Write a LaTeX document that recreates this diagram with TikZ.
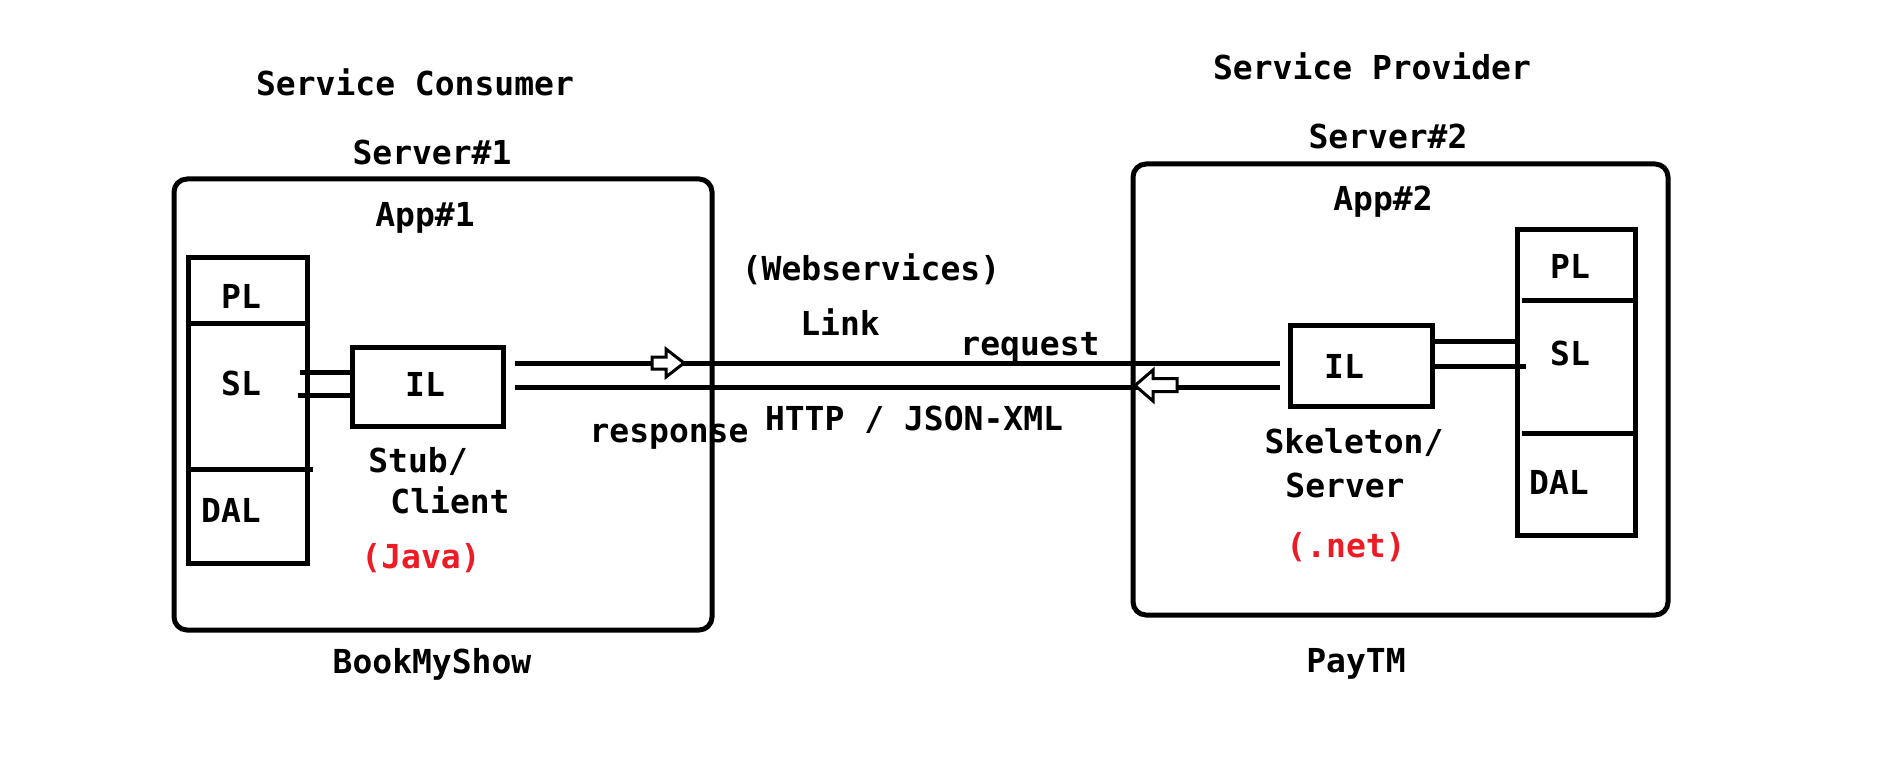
\documentclass[tikz,border=0pt]{standalone}
\usepackage{fontspec}
\newfontfamily\dmono{DejaVu Sans Mono}
\usetikzlibrary{calc}
\definecolor{pred}{RGB}{237,28,36}
\begin{document}
\begin{tikzpicture}[x=1pt,y=-1pt,line width=5pt,
  lbl/.style={anchor=base,inner sep=0pt,font=\dmono\bfseries\fontsize{33}{38}\selectfont},
  redlbl/.style={lbl,text=pred},
  box/.style={draw,line width=5pt,inner sep=0pt},
  srvbox/.style={box,rounded corners=13pt},
  harrow/.style={draw,fill=white,line width=3pt,line join=miter}]
\useasboundingbox (0,0) rectangle (1894,770);
\fill[white] (0,0) rectangle (1894,770);

% level coordinates
\coordinate (yrq) at (0,363);
\coordinate (yrs) at (0,387);
\coordinate (yl1) at (0,372);
\coordinate (yl2) at (0,395);
\coordinate (yr1) at (0,341);
\coordinate (yr2) at (0,366);

% server boxes
\node[srvbox,minimum width=538pt,minimum height=451pt] (srv1) at (443,404.5) {};
\node[srvbox,minimum width=535pt,minimum height=451pt] (srv2) at (1400.5,389.5) {};

% stacks
\node[box,minimum width=119pt,minimum height=306pt] (stkL) at (247.5,410) {};
\node[box,minimum width=118pt,minimum height=306pt] (stkR) at (1576,382) {};
\draw (stkL.west |- 0,323) -- (stkL.east |- 0,323);
\draw (stkL.west |- 0,469) -- ($(stkL.east |- 0,469)+(3,0)$);
\draw ($(stkR.west |- 0,300)+(7,0)$) -- ($(stkR.east |- 0,300)+(-4,0)$);
\draw ($(stkR.west |- 0,433)+(7,0)$) -- (stkR.east |- 0,433);

% IL boxes
\node[box,minimum width=151pt,minimum height=79pt] (ilL) at (427.5,386.5) {};
\node[box,minimum width=142pt,minimum height=81pt] (ilR) at (1361,365.5) {};

% SL <-> IL connectors
\draw ($(stkL.east |- yl1)+(-10,0)$) -- (ilL.west |- yl1);
\draw ($(stkL.east |- yl2)+(-12,0)$) -- (ilL.west |- yl2);
\draw (ilR.east |- yr1) -- (stkR.west |- yr1);
\draw (ilR.east |- yr2) -- ($(stkR.west |- yr2)+(11,0)$);

% request / response links
\draw ($(ilL.east |- yrq)+(9,0)$) -- ($(ilR.west |- yrq)+(-8,0)$);
\draw ($(ilL.east |- yrs)+(9,0)$) -- ($(ilR.west |- yrs)+(-8,0)$);

% hollow arrows
\draw[harrow] (652,357) -- (666,357) -- (666,349) -- (684,363) -- (666,377) -- (666,369) -- (652,369) -- cycle;
\draw[harrow] (1177,378.5) -- (1153,378.5) -- (1153,370) -- (1135,385.5) -- (1153,401) -- (1153,391.5) -- (1177,391.5) -- cycle;

% texts
\node[lbl] (tcons) at (415,96) {Service Consumer};
\node[lbl] (tsrv1) at (432,165) {Server\#1};
\node[lbl] (tapp1) at (425,226) {App\#1};
\node[lbl] (tprov) at (1372,80) {Service Provider};
\node[lbl] (tsrv2) at (1388,149) {Server\#2};
\node[lbl] (tapp2) at (1383,210) {App\#2};
\node[lbl] (tws) at (871,280) {(Webservices)};
\node[lbl] (tlink) at (840,335) {Link};
\node[lbl] (treq) at (1030,355) {request};
\node[lbl] (tresp) at (669,442) {response};
\node[lbl] (thttp) at (914,430) {HTTP / JSON-XML};
\node[lbl] (tplL) at (241,308) {PL};
\node[lbl] (tslL) at (241,395) {SL};
\node[lbl] (tdalL) at (231,522) {DAL};
\node[lbl] (tilL) at (425,396) {IL};
\node[lbl] (tstub) at (418,472) {Stub/};
\node[lbl] (tclient) at (450,513) {Client};
\node[redlbl] (tjava) at (421,568) {(Java)};
\node[lbl] (tbms) at (432,673) {BookMyShow};
\node[lbl] (tplR) at (1570,278) {PL};
\node[lbl] (tslR) at (1570,365) {SL};
\node[lbl] (tdalR) at (1559,494) {DAL};
\node[lbl] (tilR) at (1344,378) {IL};
\node[lbl] (tskel) at (1354,453) {Skeleton/};
\node[lbl] (tserver) at (1345,497) {Server};
\node[redlbl] (tnet) at (1346,557) {(.net)};
\node[lbl] (tpaytm) at (1356,672) {PayTM};
\end{tikzpicture}
\end{document}
